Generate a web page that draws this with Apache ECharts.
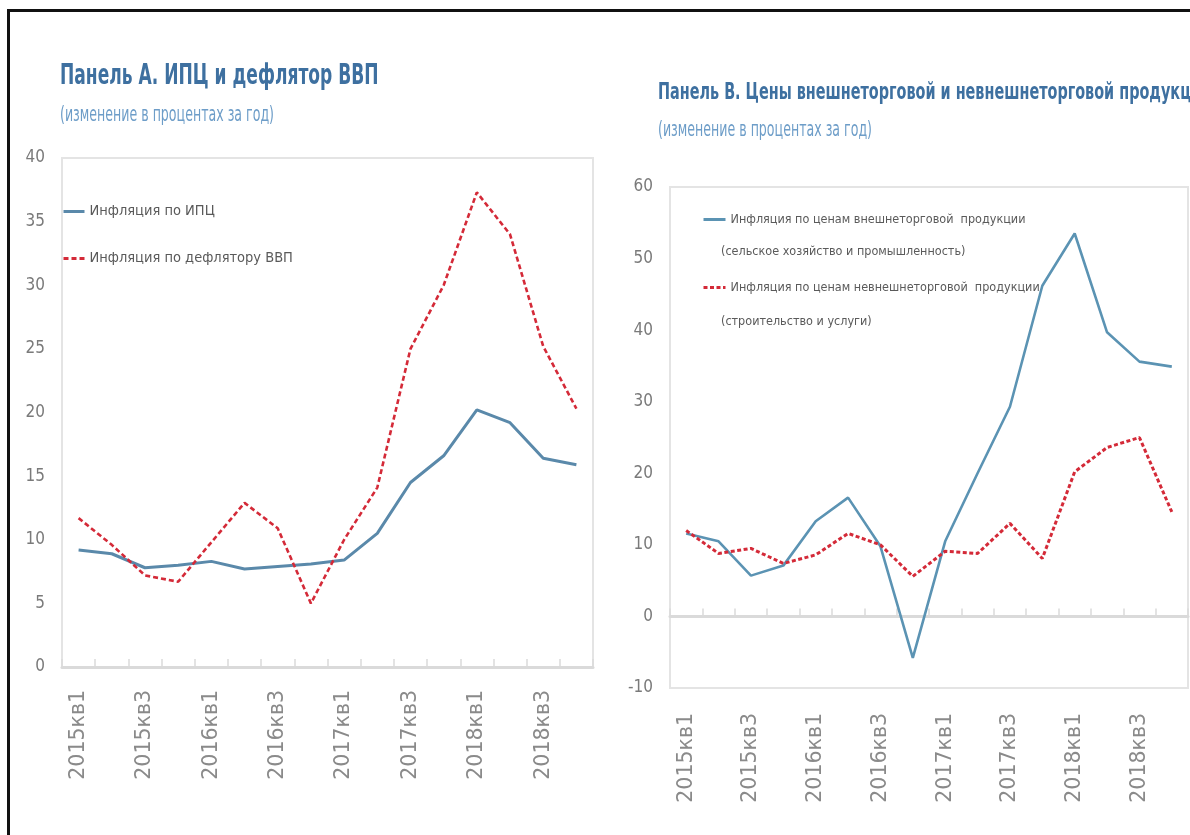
<!DOCTYPE html>
<html>
<head>
<meta charset="utf-8">
<title>ИПЦ и дефлятор ВВП</title>
<script src="https://cdn.jsdelivr.net/npm/echarts@6/dist/echarts.min.js"></script>
<style>
	html, body { margin: 0; padding: 0; background: #ffffff; }
	#chart { width: 1190px; height: 835px; }
</style>
</head>
<body>
<div id="chart"></div>
<script>
// quarters 2015кв1 .. 2018кв4
const quarters = [
	"2015кв1", "2015кв2", "2015кв3", "2015кв4",
	"2016кв1", "2016кв2", "2016кв3", "2016кв4",
	"2017кв1", "2017кв2", "2017кв3", "2017кв4",
	"2018кв1", "2018кв2", "2018кв3", "2018кв4"
];

// Panel A
const cpiInflation = [9.2, 8.9, 7.8, 8.0, 8.3, 7.7, 7.9, 8.1, 8.4, 10.5, 14.5, 16.6, 20.2, 19.2, 16.4, 15.9];
const deflatorInflation = [11.7, 9.6, 7.2, 6.7, 9.8, 12.9, 10.9, 5.0, 10.0, 14.1, 25.0, 30.0, 37.3, 34.0, 25.2, 20.3];

// Panel B
const tradableInflation = [11.6, 10.5, 5.7, 7.1, 13.3, 16.6, 9.8, -5.8, 10.5, 20.0, 29.3, 46.2, 53.5, 39.7, 35.6, 34.9];
const nonTradableInflation = [12.0, 8.8, 9.5, 7.4, 8.6, 11.6, 10.0, 5.6, 9.1, 8.8, 13.0, 8.1, 20.2, 23.6, 25.0, 14.6];

const seriesNames = [
	"Инфляция по ИПЦ",
	"Инфляция по дефлятору ВВП",
	"Инфляция по ценам внешнеторговой  продукции",
	"Инфляция по ценам невнешнеторговой  продукции"
];
const legendSubLines = ["(сельское хозяйство и промышленность)", "(строительство и услуги)"];
const titleA = "Панель А. ИПЦ и дефлятор ВВП";
const titleB = "Панель B. Цены внешнеторговой и невнешнеторговой продукции";
const subTitle = "(изменение в процентах за год)";

const NARROW = '"DejaVu Sans Condensed", "Liberation Sans Narrow", "Noto Sans", sans-serif';
const WIDE = '"DejaVu Sans", Verdana, sans-serif';
const BLUE_A = "#5a89aa";
const BLUE_B = "#5b93b3";
const RED = "#d42a38";
const AXIS_GREY = "#dadada";
const TITLE_BLUE = "#3e70a0";
const SUB_BLUE = "#6d9dc8";
const STRETCH = 1.45; // the source picture is stretched vertically

function categoryAxis(gridIndex, extra) {
	return Object.assign({
		type: "category",
		gridIndex: gridIndex,
		data: quarters,
		boundaryGap: true,
		axisLine: { show: true, lineStyle: { color: AXIS_GREY, width: 3 } },
		axisTick: { show: true, inside: true, interval: 0, length: 8, lineStyle: { color: AXIS_GREY, width: 1.5 } },
		axisLabel: {
			show: true,
			interval: 1,
			rotate: 90,
			margin: 23,
			color: "#8a8a8a",
			fontFamily: WIDE,
			fontSize: 20.5
		}
	}, extra);
}

function valueAxis(gridIndex, min, max, step) {
	return {
		type: "value",
		gridIndex: gridIndex,
		min: min,
		max: max,
		interval: step,
		axisLine: { show: false },
		axisTick: { show: false },
		splitLine: { show: false },
		axisLabel: {
			margin: 17,
			color: "#7a7a7a",
			fontFamily: NARROW,
			fontSize: 17
		}
	};
}

function headText(text, x, y, size, color, bold) {
	return {
		type: "text",
		x: x, y: y,
		scaleY: STRETCH,
		style: {
			text: text,
			fill: color,
			font: (bold ? "bold " : "") + size + "px " + NARROW,
			verticalAlign: "top"
		}
	};
}

let option = {
	animation: false,
	backgroundColor: "#ffffff",
	legend: [
		{
			orient: "vertical",
			left: 57, top: 199,
			itemWidth: 21, itemHeight: 14, itemGap: 32,
			itemStyle: { opacity: 0 },
			lineStyle: { width: 3 },
			data: [seriesNames[0], seriesNames[1]],
			textStyle: { color: "#5a5a5a", fontFamily: NARROW, fontSize: 14.5 }
		},
		{
			orient: "vertical",
			left: 697, top: 208,
			itemWidth: 22, itemHeight: 14, itemGap: 55,
			itemStyle: { opacity: 0 },
			lineStyle: { width: 3 },
			data: [seriesNames[2], seriesNames[3]],
			textStyle: { color: "#5a5a5a", fontFamily: NARROW, fontSize: 12.5 }
		}
	],
	graphic: [
		// outer black frame of the picture (top and left edges only)
		{ type: "rect", shape: { x: 7, y: 9, width: 1190, height: 3 }, style: { fill: "#111" } },
		{ type: "rect", shape: { x: 7, y: 9, width: 3, height: 830 }, style: { fill: "#111" } },
		headText(titleA, 60, 63, 19, TITLE_BLUE, true),
		headText(subTitle, 60, 106, 14, SUB_BLUE, false),
		headText(titleB, 658, 81, 16, TITLE_BLUE, true),
		headText(subTitle, 658, 121, 14, SUB_BLUE, false),
		{
			type: "text", x: 721, y: 245,
			style: { text: legendSubLines[0], fill: "#5a5a5a", font: "12.5px " + NARROW }
		},
		{
			type: "text", x: 721, y: 315,
			style: { text: legendSubLines[1], fill: "#5a5a5a", font: "12.5px " + NARROW }
		}
	],
	grid: [
		{ left: 62, top: 158, width: 531, height: 509, show: true, borderColor: "#e4e4e4", borderWidth: 2, containLabel: false },
		{ left: 670, top: 187, width: 518, height: 501, show: true, borderColor: "#e4e4e4", borderWidth: 2, containLabel: false }
	],
	xAxis: [
		categoryAxis(0, {}),
		// panel B: labels under the plot
		categoryAxis(1, {
			position: "bottom",
			axisLine: { show: false, onZero: false },
			axisTick: { show: false }
		}),
		// panel B: zero line with ticks, no labels
		categoryAxis(1, {
			position: "top",
			axisLine: { show: true, onZero: true, lineStyle: { color: AXIS_GREY, width: 3 } },
			axisTick: { show: true, inside: false, interval: 0, length: 8, lineStyle: { color: AXIS_GREY, width: 1.5 } },
			axisLabel: { show: false }
		})
	],
	yAxis: [
		valueAxis(0, 0, 40, 5),
		valueAxis(1, -10, 60, 10)
	],
	series: [
		{
			name: seriesNames[0], type: "line", xAxisIndex: 0, yAxisIndex: 0,
			data: cpiInflation, symbol: "none",
			lineStyle: { color: BLUE_A, width: 3 }, itemStyle: { color: BLUE_A }
		},
		{
			name: seriesNames[1], type: "line", xAxisIndex: 0, yAxisIndex: 0,
			data: deflatorInflation, symbol: "none",
			lineStyle: { color: RED, width: 2.6, type: [5, 3] }, itemStyle: { color: RED }
		},
		{
			name: seriesNames[2], type: "line", xAxisIndex: 1, yAxisIndex: 1,
			data: tradableInflation, symbol: "none",
			lineStyle: { color: BLUE_B, width: 2.6 }, itemStyle: { color: BLUE_B }
		},
		{
			name: seriesNames[3], type: "line", xAxisIndex: 1, yAxisIndex: 1,
			data: nonTradableInflation, symbol: "none",
			lineStyle: { color: RED, width: 3, type: [4, 2.5] }, itemStyle: { color: RED }
		}
	]
};

// label margin for panel B's bottom axis
option.xAxis[1].axisLabel.margin = 25;

let dom = document.getElementById("chart");
let chart = echarts.init(dom, null, { renderer: "canvas" });
chart.setOption(option, true);
</script>
</body>
</html>
